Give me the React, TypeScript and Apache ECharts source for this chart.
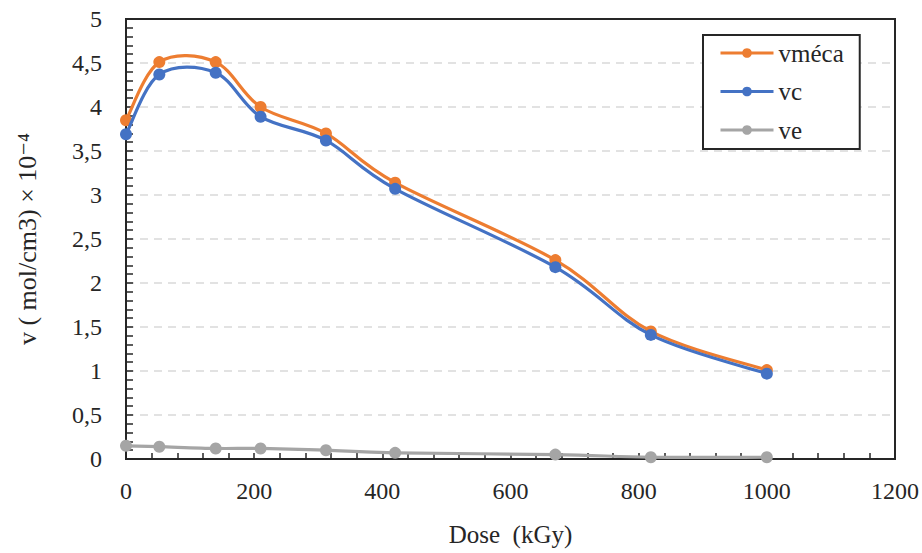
import React, { useEffect, useRef } from "react";
import * as echarts from "echarts";

const doses = [0, 52, 140, 210, 312, 420, 670, 819, 1000];
const vmeca = [3.85, 4.51, 4.51, 4.0, 3.7, 3.14, 2.26, 1.45, 1.01];
const vc = [3.69, 4.37, 4.39, 3.89, 3.62, 3.07, 2.18, 1.41, 0.97];
const ve = [0.15, 0.14, 0.12, 0.12, 0.1, 0.07, 0.05, 0.02, 0.02];
const seriesNames = ["vméca", "vc", "ve"];
const seriesColors = ["#ED7D31", "#4472C4", "#A5A5A5"];
const xTitle = "Dose  (kGy)";
const yTitle = "v ( mol/cm3) × 10⁻⁴";

const FONT = "'Liberation Serif', 'DejaVu Serif', serif";
const TXT = "#262626";

function smoothPath(pts: number[][]): string {
  // Catmull-Rom style bezier through the projected points
  let d = `M${pts[0][0]},${pts[0][1]}`;
  const t = 1 / 6;
  for (let i = 0; i < pts.length - 1; i++) {
    const p0 = pts[i - 1] || pts[i];
    const p1 = pts[i];
    const p2 = pts[i + 1];
    const p3 = pts[i + 2] || p2;
    const c1x = p1[0] + (p2[0] - p0[0]) * t;
    const c1y = p1[1] + (p2[1] - p0[1]) * t;
    const c2x = p2[0] - (p3[0] - p1[0]) * t;
    const c2y = p2[1] - (p3[1] - p1[1]) * t;
    d += ` C${c1x},${c1y} ${c2x},${c2y} ${p2[0]},${p2[1]}`;
  }
  return d;
}

export default function App() {
  const ref = useRef<HTMLDivElement>(null);
  useEffect(() => {
    document.body.style.margin = "0";
    if (!ref.current) return;
    const chart = echarts.init(ref.current, null, { renderer: "svg" });
    const all = [vmeca, vc, ve];
    const curves = all.map((vals, i) => ({
      name: seriesNames[i] + "-curve",
      type: "custom",
      silent: true,
      z: 2 + i * 2,
      data: doses.map((d, j) => [d, vals[j]]),
      encode: { x: 0, y: 1 },
      renderItem: (params: any, api: any) => {
        if (params.dataIndex !== 0) return null;
        const pts = doses.map((d, j) => api.coord([d, vals[j]]));
        return {
          type: "path",
          shape: { pathData: smoothPath(pts) },
          style: { stroke: seriesColors[i], lineWidth: 3.2, fill: "none" },
        };
      },
    }));
    const markers = all.map((vals, i) => ({
      name: seriesNames[i],
      type: "line",
      data: doses.map((d, j) => [d, vals[j]]),
      symbol: "circle",
      symbolSize: 12,
      lineStyle: { width: 3, color: seriesColors[i], opacity: 0 },
      itemStyle: { color: seriesColors[i] },
      z: 3 + i * 2,
    }));
    chart.setOption({
      animation: false,
      backgroundColor: "#fff",
      textStyle: { fontFamily: FONT },
      grid: {
        left: 126,
        top: 19,
        right: 26,
        bottom: 94,
        show: true,
        borderColor: "#262626",
        borderWidth: 2,
        containLabel: false,
      },
      legend: {
        orient: "vertical",
        left: 703,
        top: 35,
        padding: [5, 16, 6, 16],
        backgroundColor: "#fff",
        borderColor: "#262626",
        borderWidth: 2,
        itemWidth: 53,
        itemHeight: 12,
        itemGap: 12.5,
        lineStyle: { opacity: 1, width: 3 },
        textStyle: { fontFamily: FONT, fontSize: 25, color: TXT, lineHeight: 26 },
        data: seriesNames,
      },
      xAxis: {
        type: "value",
        min: 0,
        max: 1200,
        interval: 200,
        name: xTitle,
        nameLocation: "middle",
        nameGap: 63,
        nameTextStyle: { fontFamily: FONT, fontSize: 25, color: TXT },
        axisLine: { lineStyle: { color: "#262626", width: 2 } },
        axisTick: { inside: true, length: 6, lineStyle: { color: "#262626", width: 1.5 } },
        minorTick: { show: true, splitNumber: 5, length: 6, lineStyle: { color: "#262626", width: 1.5 } },
        axisLabel: {
          fontFamily: FONT,
          fontSize: 24,
          color: TXT,
          margin: 20,
          formatter: (v: number) => String(v),
        },
        splitLine: { show: false },
      },
      yAxis: {
        type: "value",
        min: 0,
        max: 5,
        interval: 0.5,
        name: yTitle,
        nameLocation: "middle",
        nameGap: 86,
        nameTextStyle: { fontFamily: FONT, fontSize: 26, color: TXT },
        axisLine: { lineStyle: { color: "#262626", width: 2 } },
        axisTick: { inside: true, length: 7, lineStyle: { color: "#262626", width: 1.5 } },
        minorTick: { show: true, splitNumber: 5, length: 7, lineStyle: { color: "#262626", width: 1.5 } },
        axisLabel: {
          fontFamily: FONT,
          fontSize: 24,
          color: TXT,
          margin: 24,
          formatter: (v: number) => String(v).replace(".", ","),
        },
        splitLine: {
          show: true,
          showMinLine: false,
          showMaxLine: false,
          lineStyle: { color: "#d9d9d9", type: [8, 6], width: 1.5 },
        },
      },
      series: [...curves, ...markers],
    });
    return () => chart.dispose();
  }, []);
  return <div ref={ref} style={{ width: 922, height: 553 }} />;
}
